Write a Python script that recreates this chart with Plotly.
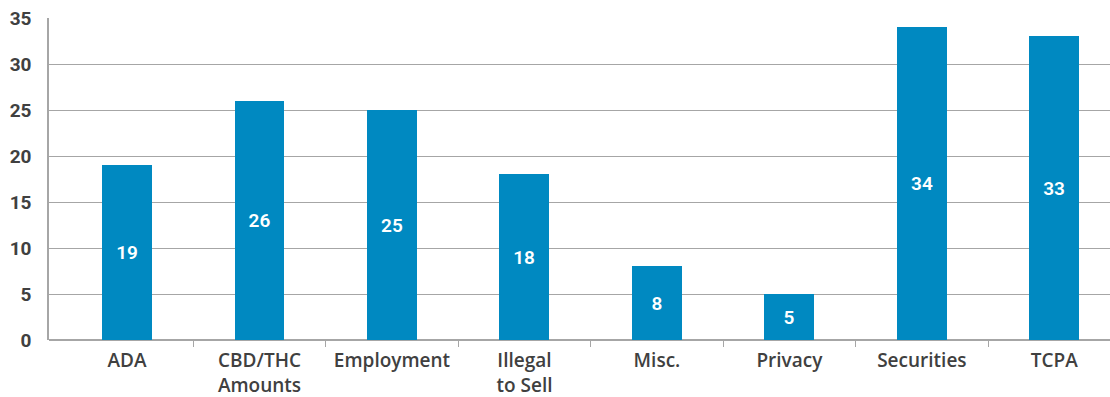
import plotly.graph_objects as go

categories = ["ADA", "CBD/THC<br>Amounts", "Employment", "Illegal<br>to Sell", "Misc.", "Privacy", "Securities", "TCPA"]
values = [19, 26, 25, 18, 8, 5, 34, 33]
y_ticks = [0, 5, 10, 15, 20, 25, 30, 35]

BAR = "#0089C1"
TXT = "#404040"
GRID = "#a6a6a6"
FONT = "Roboto, Arial, sans-serif"
XFONT = "Open Sans, Arial, sans-serif"

n = len(categories)
boundaries = [i + 0.5 for i in range(n - 1)]
xr = [-0.589, 7.42]

fig = go.Figure()
fig.add_trace(go.Bar(
    x=list(range(n)), y=values, width=0.377,
    marker=dict(color=BAR, line=dict(width=0)),
    text=[str(v) for v in values], textposition="inside", insidetextanchor="middle",
    textfont=dict(color="white", size=19, family=FONT, weight=600),
    textangle=0, showlegend=False, hoverinfo="skip",
))
fig.add_trace(go.Scatter(x=boundaries, y=[0] * len(boundaries), xaxis="x2",
                         mode="markers", marker=dict(opacity=0), showlegend=False, hoverinfo="skip"))

fig.update_layout(
    width=1110, height=397,
    margin=dict(l=49, r=0, t=18, b=57),
    plot_bgcolor="white", paper_bgcolor="white",
    bargap=0,
    xaxis=dict(
        range=xr, tickmode="array", tickvals=list(range(n)), ticktext=categories,
        ticks="", showgrid=False, zeroline=False, showline=False,
        tickfont=dict(size=19, color=TXT, family=XFONT, weight=600),
        ticklabelstandoff=7,
    ),
    xaxis2=dict(
        overlaying="x", range=xr, tickmode="array", tickvals=boundaries,
        ticks="outside", ticklen=6, tickcolor=GRID, tickwidth=1,
        showticklabels=False, showgrid=False, zeroline=False, showline=False,
        anchor="y",
    ),
    yaxis=dict(
        range=[0, 35], tickmode="array", tickvals=y_ticks,
        showgrid=True, gridcolor=GRID, gridwidth=1,
        zeroline=True, zerolinecolor=GRID, zerolinewidth=1.5,
        showline=True, linecolor=GRID, linewidth=1.5,
        ticks="", tickfont=dict(size=19, color=TXT, family=FONT, weight="bold"),
        ticklabelstandoff=12,
    ),
)

fig.write_html("out.html")
